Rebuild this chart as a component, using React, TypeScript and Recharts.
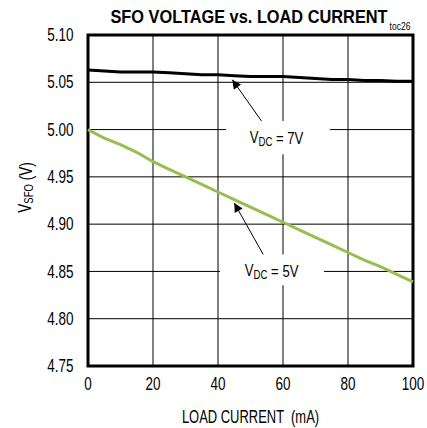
import React from 'react'
import {
  LineChart, Line, XAxis, YAxis, CartesianGrid,
  ReferenceArea, ReferenceLine, ReferenceDot,
} from 'recharts'

const FONT = '"Liberation Sans", Arial, sans-serif'
const NARROW = 0.77

// load current (mA)
const current = [0, 5, 10, 15, 20, 25, 30, 35, 40, 45, 50, 55, 60, 65, 70, 75, 80, 85, 90, 95, 100]
// V_SFO at V_DC = 7V
const vdc7 = [5.063, 5.062, 5.061, 5.061, 5.061, 5.060, 5.059, 5.058, 5.058, 5.057, 5.056, 5.056, 5.056, 5.055, 5.054, 5.053, 5.053, 5.052, 5.052, 5.051, 5.051]
// V_SFO at V_DC = 5V
const vdc5 = [5.000, 4.991, 4.984, 4.976, 4.966, 4.958, 4.950, 4.942, 4.934, 4.926, 4.918, 4.910, 4.902, 4.894, 4.886, 4.878, 4.870, 4.862, 4.855, 4.847, 4.839]

const xTicks = [0, 20, 40, 60, 80, 100]
const yTicks = [4.75, 4.8, 4.85, 4.9, 4.95, 5.0, 5.05, 5.1]

const data = current.map((c, i) => ({ c, v7: vdc7[i], v5: vdc5[i] }))

// condensed text: regular font squeezed horizontally (no narrow font installed)
function NText({ x, y, size, anchor = 'middle', rotate = 0, sx = NARROW, children }: any) {
  return (
    <text transform={`translate(${x} ${y}) rotate(${rotate}) scale(${sx} 1)`} x={0} y={0}
      textAnchor={anchor} dominantBaseline="central" fontFamily={FONT} fontSize={size} fill="#000"
      style={{ whiteSpace: 'pre' }}>
      {children}
    </text>
  )
}

const XTick = (props: any) => (
  <NText x={props.x} y={props.y + 10} size={17.5}>{props.payload.value}</NText>
)

const YTick = (props: any) => (
  <NText x={73.5} y={props.y} size={17.5} anchor="end">{props.payload.value.toFixed(2)}</NText>
)

const VdcText = (volts: string) => (props: any) => (
  <NText x={props.cx} y={props.cy} size={17}>
    V<tspan fontSize={12.5} dy={4}>DC</tspan><tspan dy={-4}> = {volts}</tspan>
  </NText>
)

const YLabel = (props: any) => {
  const { viewBox } = props
  return (
    <NText x={25} y={viewBox.y + viewBox.height / 2 - 13} size={17.5} rotate={-90}>
      V<tspan fontSize={12.5} dy={4}>SFO</tspan><tspan dy={-4}> (V)</tspan>
    </NText>
  )
}

const XLabel = (props: any) => {
  const { viewBox } = props
  return (
    <NText x={viewBox.x + viewBox.width / 2} y={416.5} size={18} sx={0.72}>
      LOAD CURRENT  (mA)
    </NText>
  )
}

export default function App() {
  return (
    <div style={{ position: 'absolute', left: 0, top: 0, width: 427, height: 428, background: '#fff' }}>
      <svg width={0} height={0} style={{ position: 'absolute' }}>
        <defs>
          <marker id="arrowHead" viewBox="0 0 10 10" refX={10} refY={5}
            markerWidth={11} markerHeight={9} markerUnits="userSpaceOnUse" orient="auto">
            <path d="M0,0 L10,5 L0,10 z" fill="#000" />
          </marker>
        </defs>
      </svg>
      <LineChart width={427} height={428} data={data}
        margin={{ top: 35, right: 14, bottom: 32, left: 28 }}>
        <CartesianGrid stroke="#000" strokeWidth={1} />
        <XAxis dataKey="c" type="number" domain={[0, 100]} ticks={xTicks}
          axisLine={false} tickLine={false} height={30} tick={XTick}
          label={{ content: XLabel }} />
        <YAxis type="number" domain={[4.75, 5.1]} ticks={yTicks} width={60}
          axisLine={false} tickLine={false} tick={YTick}
          label={{ content: YLabel }} />
        <ReferenceArea x1={42.5} x2={74.5} y1={4.974} y2={5.009} fill="#fff" fillOpacity={1} stroke="none" />
        <ReferenceArea x1={40.6} x2={72.6} y1={4.8355} y2={4.868} fill="#fff" fillOpacity={1} stroke="none" />
        <Line dataKey="v7" stroke="#000" strokeWidth={3} dot={false} isAnimationActive={false} />
        <Line dataKey="v5" stroke="#95bf4f" strokeWidth={3} dot={false} isAnimationActive={false} />
        <ReferenceLine segment={[{ x: 53.4, y: 5.009 }, { x: 44.4, y: 5.0527 }]}
          stroke="#000" strokeWidth={1} markerEnd="url(#arrowHead)" />
        <ReferenceLine segment={[{ x: 53.9, y: 4.868 }, { x: 45.0, y: 4.9224 }]}
          stroke="#000" strokeWidth={1} markerEnd="url(#arrowHead)" />
        <ReferenceDot x={58.0} y={4.992} r={0} shape={VdcText('7V')} />
        <ReferenceDot x={56.5} y={4.8514} r={0} shape={VdcText('5V')} />
        <ReferenceArea x1={0} x2={100} y1={4.75} y2={5.1} fill="none" stroke="#000" strokeWidth={3} />
      </LineChart>
      <div style={{
        position: 'absolute', left: 249, top: 16, transform: 'translate(-50%, -50%) scaleX(0.86)',
        whiteSpace: 'nowrap', fontFamily: FONT, fontWeight: 'bold', fontSize: 19, lineHeight: 1,
      }}>
        SFO VOLTAGE vs. LOAD CURRENT
      </div>
      <div style={{
        position: 'absolute', left: 399.5, top: 27, transform: 'translate(-50%, -50%) scaleX(0.85)',
        whiteSpace: 'nowrap', fontFamily: FONT, fontSize: 10, lineHeight: 1,
      }}>
        toc26
      </div>
    </div>
  )
}
